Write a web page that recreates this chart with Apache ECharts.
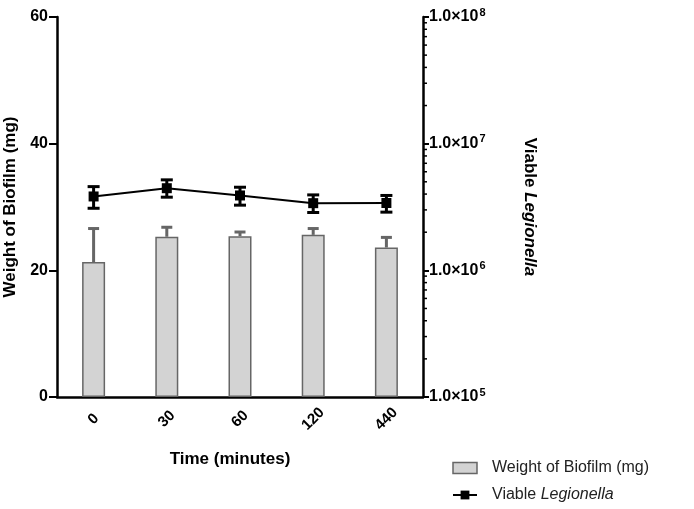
<!DOCTYPE html>
<html>
<head>
<meta charset="utf-8">
<script src="https://cdn.jsdelivr.net/npm/echarts@6/dist/echarts.min.js"></script>
<style>html,body{margin:0;padding:0;background:#fff;}#c{width:694px;height:509px;}</style>
</head>
<body>
<div id="c"></div>
<script>
var categories = ['0', '30', '60', '120', '440'];
var biofilmWeight = [21.3, 25.3, 25.4, 25.6, 23.6];
var biofilmErrTop = [26.6, 26.8, 26.05, 26.6, 25.2];
var legionella = [3.83e6, 4.45e6, 3.9e6, 3.39e6, 3.40e6];
var legionellaLow = [3.09e6, 3.78e6, 3.27e6, 2.86e6, 2.88e6];
var legionellaHigh = [4.58e6, 5.18e6, 4.53e6, 3.94e6, 3.9e6];
var rightMinorTicks = [];
[1e5, 1e6, 1e7].forEach(function (d) { for (var k = 2; k <= 9; k++) rightMinorTicks.push(k * d); });

var FONT = '"Liberation Sans", Arial, sans-serif';

var barErrData = categories.map(function (c, i) { return [i, biofilmWeight[i], biofilmErrTop[i]]; });
var lineErrData = categories.map(function (c, i) { return [i, legionellaLow[i], legionellaHigh[i]]; });

function errRender(color, capW, lw, bothCaps) {
  return function (params, api) {
    var i = api.value(0);
    var lo = api.coord([i, api.value(1)]);
    var hi = api.coord([i, api.value(2)]);
    var x = lo[0];
    var children = [
      { type: 'line', shape: { x1: x, y1: lo[1], x2: x, y2: hi[1] }, style: { stroke: color, lineWidth: lw } },
      { type: 'line', shape: { x1: x - capW / 2, y1: hi[1], x2: x + capW / 2, y2: hi[1] }, style: { stroke: color, lineWidth: lw } }
    ];
    if (bothCaps) children.push({ type: 'line', shape: { x1: x - capW / 2, y1: lo[1], x2: x + capW / 2, y2: lo[1] }, style: { stroke: color, lineWidth: lw } });
    return { type: 'group', children: children };
  };
}

var chart = echarts.init(document.getElementById('c'));
chart.setOption({
  animation: false,
  backgroundColor: '#fff',
  textStyle: { fontFamily: FONT },
  grid: { left: 57, right: 271, top: 17, bottom: 112, containLabel: false, outerBoundsMode: 'none' },
  legend: {
    orient: 'vertical', left: 447, top: 455, itemGap: 11, itemWidth: 24, itemHeight: 11,
    textStyle: { fontFamily: FONT, fontSize: 16, color: '#222', padding: [0, 0, 0, 10],
      rich: { n: { fontFamily: FONT, fontSize: 16, color: '#222' }, i: { fontFamily: FONT, fontSize: 16, color: '#222', fontStyle: 'italic' } } },
    data: [
      { name: 'Weight of Biofilm (mg)', icon: 'rect', itemStyle: { color: '#d3d3d3', borderColor: '#666', borderWidth: 1.5 } },
      { name: 'Viable Legionella' }
    ],
    formatter: function (name) { return name === 'Viable Legionella' ? '{n|Viable }{i|Legionella}' : name; }
  },
  xAxis: {
    type: 'category', data: categories,
    name: 'Time (minutes)', nameLocation: 'middle', nameGap: 54,
    nameTextStyle: { fontFamily: FONT, fontSize: 17, fontWeight: 'bold', color: '#000', padding: [0, 20, 0, 0] },
    axisLine: { lineStyle: { color: '#000', width: 2.5 } },
    axisTick: { alignWithLabel: true, length: 8, lineStyle: { color: '#000', width: 2 } },
    axisLabel: { rotate: 45, align: 'center', verticalAlign: 'middle', fontFamily: FONT, fontSize: 15, fontWeight: 'bold', color: '#000', margin: 22 }
  },
  yAxis: [
    {
      type: 'value', min: 0, max: 60, interval: 20, position: 'left',
      name: 'Weight of Biofilm (mg)', nameLocation: 'middle', nameGap: 34, nameRotate: 90,
      nameTextStyle: { fontFamily: FONT, fontSize: 17, fontWeight: 'bold', color: '#000' },
      axisLine: { show: true, lineStyle: { color: '#000', width: 2.5 } },
      axisTick: { show: true, length: 8, lineStyle: { color: '#000', width: 2 } },
      axisLabel: { fontFamily: FONT, fontSize: 16, fontWeight: 'bold', color: '#000', margin: 9 },
      splitLine: { show: false }
    },
    {
      type: 'log', logBase: 10, min: 1e5, max: 1e8, position: 'right',
      name: '{n|Viable }{i|Legionella}', nameLocation: 'middle', nameGap: 98, nameRotate: -90,
      nameTextStyle: { fontFamily: FONT, fontSize: 17, fontWeight: 'bold', color: '#000',
        rich: { n: { fontFamily: FONT, fontSize: 17, fontWeight: 'bold', color: '#000' }, i: { fontFamily: FONT, fontSize: 17, fontWeight: 'bold', fontStyle: 'italic', color: '#000' } } },
      axisLine: { show: true, lineStyle: { color: '#000', width: 2.5 } },
      axisTick: { show: true, length: 6, lineStyle: { color: '#000', width: 2 } },
      axisLabel: { fontFamily: FONT, fontSize: 16, fontWeight: 'bold', color: '#000', margin: 6,
        formatter: function (v) { var e = Math.round(Math.log(v) / Math.LN10); return '{b|1.0×10}{s|' + e + '}'; },
        rich: { b: { fontFamily: FONT, fontSize: 16, fontWeight: 'bold', color: '#000' }, s: { fontFamily: FONT, fontSize: 11, fontWeight: 'bold', color: '#000', padding: [0, 0, 9, 1] } } },
      splitLine: { show: false }
    }
  ],
  series: [
    {
      name: 'Weight of Biofilm (mg)', type: 'bar', data: biofilmWeight, yAxisIndex: 0, barWidth: 23,
      itemStyle: { color: '#d3d3d3', borderColor: '#666', borderWidth: 1.5 }, z: 2
    },
    {
      name: 'barErr', type: 'custom', yAxisIndex: 0, data: barErrData, z: 3,
      renderItem: errRender('#666', 11, 3, false), silent: true
    },
    {
      name: 'Viable Legionella', type: 'line', data: legionella, yAxisIndex: 1,
      symbol: 'rect', symbolSize: 10, lineStyle: { color: '#000', width: 2 }, itemStyle: { color: '#000' }, z: 5
    },
    {
      name: 'lineErr', type: 'custom', yAxisIndex: 1, data: lineErrData, z: 4,
      renderItem: errRender('#000', 12, 3, true), silent: true
    },
    {
      name: 'minorTicks', type: 'custom', yAxisIndex: 1, z: 6, silent: true,
      data: rightMinorTicks.map(function (v) { return [0, v]; }),
      renderItem: function (params, api) {
        var cs = params.coordSys;
        var y = api.coord([0, api.value(1)])[1];
        var x = cs.x + cs.width;
        return { type: 'line', shape: { x1: x, y1: y, x2: x + 4, y2: y }, style: { stroke: '#000', lineWidth: 1.5 } };
      }
    }
  ]
});
</script>
</body>
</html>
